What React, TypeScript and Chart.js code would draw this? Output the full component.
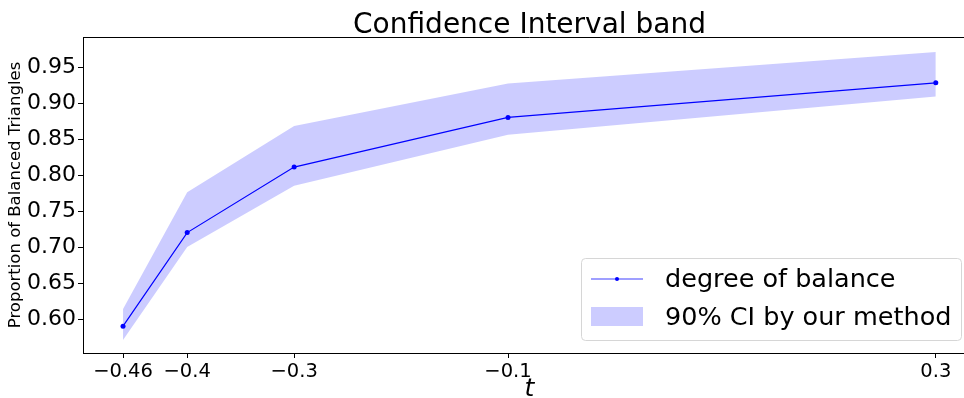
import React, { useEffect, useRef } from "react";
import { Chart, registerables } from "chart.js";

Chart.register(...registerables);

const tValues = [-0.46, -0.4, -0.3, -0.1, 0.3];
const balance = [0.59, 0.72, 0.811, 0.88, 0.928];
const ciUpper = [0.614, 0.776, 0.868, 0.927, 0.971];
const ciLower = [0.571, 0.7, 0.785, 0.856, 0.909];
const xTickValues = [-0.46, -0.4, -0.3, -0.1, 0.3];
const yTickValues = [0.6, 0.65, 0.7, 0.75, 0.8, 0.85, 0.9, 0.95];

const titleText = "Confidence Interval band";
const xLabel = "t";
const yLabel = "Proportion of Balanced Triangles";
const lineLabel = "degree of balance";
const bandLabel = "90% CI by our method";

const FONT = '"DejaVu Sans", sans-serif';

const decorPlugin = {
  id: "decor",
  afterDraw(chart: any) {
    const { ctx, chartArea } = chart;
    const cx = (chartArea.left + chartArea.right) / 2;
    ctx.save();
    // top spine
    ctx.strokeStyle = "#000";
    ctx.lineWidth = 1;
    ctx.beginPath();
    ctx.moveTo(chartArea.left, Math.round(chartArea.top) + 0.5);
    ctx.lineTo(chartArea.right, Math.round(chartArea.top) + 0.5);
    ctx.stroke();
    // title
    ctx.fillStyle = "#000";
    ctx.font = `28px ${FONT}`;
    ctx.textAlign = "center";
    ctx.textBaseline = "alphabetic";
    ctx.fillText(titleText, cx, 33);
    // x label
    ctx.font = `italic 25px ${FONT}`;
    ctx.fillText(xLabel, cx, 396);
    // y label
    ctx.save();
    ctx.translate(16, (chartArea.top + chartArea.bottom) / 2);
    ctx.rotate(-Math.PI / 2);
    ctx.font = `16.5px ${FONT}`;
    ctx.textBaseline = "middle";
    ctx.fillText(yLabel, 0, 0);
    ctx.restore();
    // legend
    const bx = 581.5, by = 258.5, bw = 380, bh = 82, r = 4;
    ctx.beginPath();
    ctx.moveTo(bx + r, by);
    ctx.lineTo(bx + bw - r, by);
    ctx.quadraticCurveTo(bx + bw, by, bx + bw, by + r);
    ctx.lineTo(bx + bw, by + bh - r);
    ctx.quadraticCurveTo(bx + bw, by + bh, bx + bw - r, by + bh);
    ctx.lineTo(bx + r, by + bh);
    ctx.quadraticCurveTo(bx, by + bh, bx, by + bh - r);
    ctx.lineTo(bx, by + r);
    ctx.quadraticCurveTo(bx, by, bx + r, by);
    ctx.closePath();
    ctx.fillStyle = "rgba(255,255,255,0.8)";
    ctx.fill();
    ctx.strokeStyle = "#d6d6d6";
    ctx.lineWidth = 1;
    ctx.stroke();
    // line sample
    ctx.strokeStyle = "rgba(0,0,255,0.75)";
    ctx.lineWidth = 1.2;
    ctx.beginPath();
    ctx.moveTo(591, 279);
    ctx.lineTo(643, 279);
    ctx.stroke();
    ctx.fillStyle = "#0000ff";
    ctx.beginPath();
    ctx.arc(617, 279, 2, 0, Math.PI * 2);
    ctx.fill();
    // patch sample
    ctx.fillStyle = "rgba(0,0,255,0.2)";
    ctx.fillRect(591, 307, 52, 19);
    // texts
    ctx.fillStyle = "#000";
    ctx.font = `25.5px ${FONT}`;
    ctx.textAlign = "left";
    ctx.textBaseline = "alphabetic";
    ctx.fillText(lineLabel, 665, 287);
    ctx.fillText(bandLabel, 665, 324.5);
    ctx.restore();
  },
};

const fmtX = (v: number) => (v < 0 ? "\u2212" + String(Math.abs(v)) : String(v));

export default function App() {
  const ref = useRef<HTMLCanvasElement | null>(null);

  useEffect(() => {
    if (!ref.current) return;
    const chart = new Chart(ref.current, {
      type: "line",
      data: {
        datasets: [
          {
            label: lineLabel,
            data: tValues.map((x, i) => ({ x, y: balance[i] })),
            borderColor: "#0000ff",
            backgroundColor: "#0000ff",
            borderWidth: 1.2,
            pointRadius: 2.5,
            pointBorderWidth: 0,
            pointBackgroundColor: "#0000ff",
            tension: 0,
            fill: false,
          },
          {
            label: bandLabel,
            data: tValues.map((x, i) => ({ x, y: ciUpper[i] })),
            borderWidth: 0,
            borderColor: "rgba(0,0,0,0)",
            backgroundColor: "rgba(0,0,255,0.2)",
            pointRadius: 0,
            tension: 0,
            fill: "+1",
          },
          {
            label: "lower",
            data: tValues.map((x, i) => ({ x, y: ciLower[i] })),
            borderWidth: 0,
            borderColor: "rgba(0,0,0,0)",
            pointRadius: 0,
            tension: 0,
            fill: false,
          },
        ],
      },
      options: {
        animation: false,
        responsive: false,
        devicePixelRatio: 1,
        font: { family: FONT },
        layout: { padding: { top: 37, left: 0, right: 0, bottom: 0 } },
        plugins: {
          legend: { display: false },
          tooltip: { enabled: false },
          title: { display: false },
        },
        scales: {
          x: {
            type: "linear",
            min: -0.49743,
            max: 0.3376,
            afterBuildTicks: (scale: any) => {
              scale.ticks = xTickValues.map((v) => ({ value: v }));
            },
            afterFit: (scale: any) => {
              scale.height = 45;
            },
            ticks: {
              autoSkip: false,
              maxRotation: 0,
              padding: 2,
              color: "#000",
              font: { family: FONT, size: 19.5 },
              callback: (v: any) => fmtX(Number(v)),
            },
            grid: {
              drawOnChartArea: false,
              drawTicks: true,
              tickLength: 5,
              color: "#000",
            },
            border: { display: true, color: "#000", width: 1 },
          },
          y: {
            type: "linear",
            min: 0.55278,
            max: 0.99167,
            afterBuildTicks: (scale: any) => {
              scale.ticks = yTickValues.map((v) => ({ value: v }));
            },
            afterFit: (scale: any) => {
              scale.width = 83;
            },
            ticks: {
              padding: 2,
              color: "#000",
              font: { family: FONT, size: 22 },
              callback: (v: any) => Number(v).toFixed(2),
            },
            grid: {
              drawOnChartArea: false,
              drawTicks: true,
              tickLength: 5,
              color: "#000",
            },
            border: { display: true, color: "#000", width: 1 },
          },
        },
      },
      plugins: [decorPlugin],
    });
    return () => chart.destroy();
  }, []);

  return (
    <div
      style={{
        position: "fixed",
        left: 0,
        top: 0,
        width: 964,
        height: 398,
        overflow: "hidden",
        background: "#fff",
      }}
    >
      <canvas ref={ref} width={980} height={398} style={{ display: "block" }} />
    </div>
  );
}
